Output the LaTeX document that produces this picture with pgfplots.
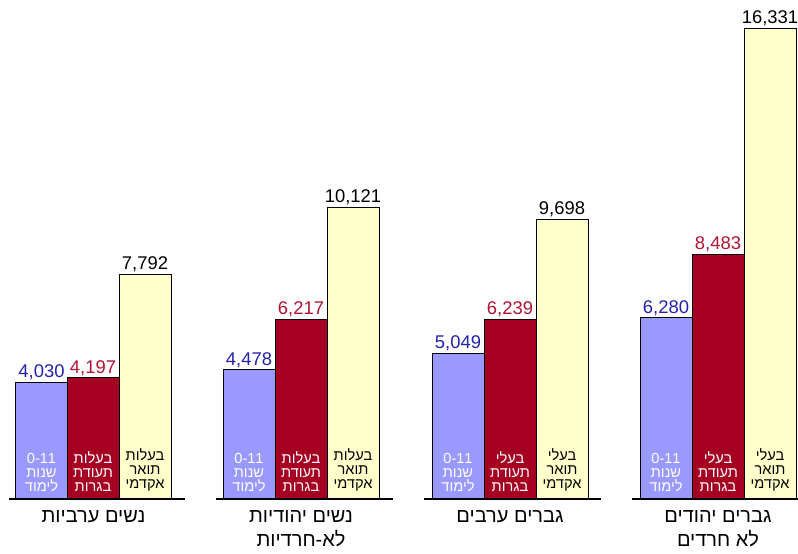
\documentclass[border=0pt]{standalone}
\usepackage{pgfplots}
\pgfplotsset{compat=1.18}
\usepackage{fontspec}
\setmainfont{Liberation Sans}
\newfontfamily\heb[Script=Hebrew]{Liberation Sans}
\TeXXeTstate=1

\definecolor{barblue}{RGB}{153,153,255}
\definecolor{barred}{RGB}{165,0,33}
\definecolor{baryellow}{RGB}{255,255,204}
\definecolor{txtblue}{RGB}{34,34,170}
\definecolor{txtred}{RGB}{175,20,50}

\tikzset{inl/.style={anchor=south, align=center, inner sep=0pt, yshift=3.5pt,
    font=\heb\fontsize{7.3}{7}\selectfont}}

\begin{document}
\begin{tikzpicture}
\path[use as bounding box] (0,-27pt) rectangle (399pt,249.5pt);
\begin{axis}[
  at={(0,0)}, anchor=south west,
  scale only axis, width=399pt, height=249.5pt,
  xmin=0, xmax=798, ymin=0, ymax=17302,
  axis line style={draw=none},
  ytick=\empty,
  xtick={93.5,301,510,718},
  xticklabels={{\beginR נשים ערביות\endR},
               {\beginR נשים יהודיות\endR\\\beginR לא-חרדיות\endR},
               {\beginR גברים ערבים\endR},
               {\beginR גברים יהודים\endR\\\beginR לא חרדים\endR}},
  major tick length=0pt,
  xticklabel style={align=center, font=\heb\fontsize{10}{12}\selectfont,
    inner sep=2pt, yshift=-3.5pt},
  ybar, bar width=52,
  clip=false,
  nodes near coords,
  nodes near coords style={font=\fontsize{9.2}{10}\selectfont, inner sep=1pt,
    /pgf/number format/1000 sep={,}, /pgf/number format/assume math mode=true},
]
% 0-11 years of schooling
\addplot[bar shift=0pt, fill=barblue, draw=black, line width=0.5pt,
  every node near coord/.append style={text=txtblue}]
  coordinates {(41.5,4030) (249,4478) (458,5049) (666,6280)};
% matriculation certificate
\addplot[bar shift=0pt, fill=barred, draw=black, line width=0.5pt,
  every node near coord/.append style={text=txtred}]
  coordinates {(93,4197) (301,6217) (510,6239) (718,8483)};
% academic degree
\addplot[bar shift=0pt, fill=baryellow, draw=black, line width=0.5pt,
  every node near coord/.append style={text=black}]
  coordinates {(145,7792) (353,10121) (562,9698) (770,16331)};

% group baselines
\draw[line width=1.2pt] (axis cs:9,0) -- (axis cs:185,0);
\draw[line width=1.2pt] (axis cs:216,0) -- (axis cs:393,0);
\draw[line width=1.2pt] (axis cs:424,0) -- (axis cs:601,0);
\draw[line width=1.2pt] (axis cs:632,0) -- (axis cs:798,0);

% labels inside the bars
\node[inl, text=white] at (axis cs:41.5,0) {0-11\\\beginR שנות\endR\\\beginR לימוד\endR};
\node[inl, text=white] at (axis cs:249,0) {0-11\\\beginR שנות\endR\\\beginR לימוד\endR};
\node[inl, text=white] at (axis cs:458,0) {0-11\\\beginR שנות\endR\\\beginR לימוד\endR};
\node[inl, text=white] at (axis cs:666,0) {0-11\\\beginR שנות\endR\\\beginR לימוד\endR};
\node[inl, text=white] at (axis cs:93,0) {\beginR בעלות\endR\\\beginR תעודת\endR\\\beginR בגרות\endR};
\node[inl, text=white] at (axis cs:301,0) {\beginR בעלות\endR\\\beginR תעודת\endR\\\beginR בגרות\endR};
\node[inl, text=white] at (axis cs:510,0) {\beginR בעלי\endR\\\beginR תעודת\endR\\\beginR בגרות\endR};
\node[inl, text=white] at (axis cs:718,0) {\beginR בעלי\endR\\\beginR תעודת\endR\\\beginR בגרות\endR};
\node[inl, text=black] at (axis cs:145,0) {\beginR בעלות\endR\\\beginR תואר\endR\\\beginR אקדמי\endR};
\node[inl, text=black] at (axis cs:353,0) {\beginR בעלות\endR\\\beginR תואר\endR\\\beginR אקדמי\endR};
\node[inl, text=black] at (axis cs:562,0) {\beginR בעלי\endR\\\beginR תואר\endR\\\beginR אקדמי\endR};
\node[inl, text=black] at (axis cs:770,0) {\beginR בעלי\endR\\\beginR תואר\endR\\\beginR אקדמי\endR};
\end{axis}
\end{tikzpicture}
\end{document}
